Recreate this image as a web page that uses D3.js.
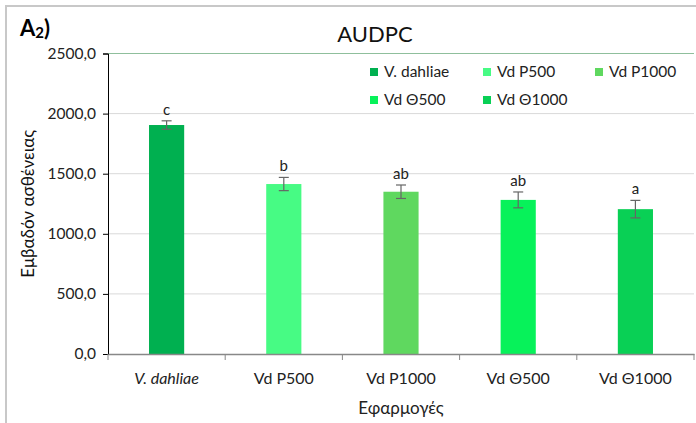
<!DOCTYPE html>
<html><head><meta charset="utf-8">
<script src="https://cdn.jsdelivr.net/npm/d3@7"></script>
<style>body{margin:0;background:#fff;} svg{display:block;font-family:Lato,"Open Sans",sans-serif;}</style>
</head><body>
<svg id="c" width="696" height="423"></svg>
<script>
const categories = ["V. dahliae","Vd P500","Vd P1000","Vd Θ500","Vd Θ1000"];
const values = [1905, 1414, 1350, 1282, 1205];
const errors = [35, 55, 56, 66, 73];
const letters = ["c","b","ab","ab","a"];
const colors = ["#00B050","#47FB84","#5FD85F","#07F25A","#09D055"];
const yTicks = [0,500,1000,1500,2000,2500];

const svg = d3.select("#c");
const W=696,H=423;
const m={l:108,r:694,t:53.5,b:354};

// chart frame
svg.append("rect").attr("x",6).attr("y",6).attr("width",W+10).attr("height",H+10)
  .attr("fill","#fff").attr("stroke","#c8c8c8").attr("stroke-width",2);

const x=d3.scaleBand().domain(categories).range([m.l,m.r]).paddingInner(0.7).paddingOuter(0.35);
const xb=d3.scaleBand().domain(categories).range([m.l,m.r]);
const y=d3.scaleLinear().domain([0,2500]).range([m.b,m.t]);
const fmt=d=>d3.format(".1f")(d).replace(".",",");

// gridlines
svg.append("g").selectAll("line").data(yTicks.filter(d=>d>0)).join("line")
  .attr("x1",m.l).attr("x2",m.r).attr("y1",d=>y(d)).attr("y2",d=>y(d))
  .attr("stroke",d=>d===2500?"#8fbf9c":"#d9d9d9").attr("stroke-width",1);

// y axis
const ya=svg.append("g").attr("transform",`translate(${m.l},0)`)
  .call(d3.axisLeft(y).tickValues(yTicks).tickFormat(fmt).tickSize(5).tickPadding(7));
ya.select(".domain").attr("stroke","#000");
ya.selectAll(".tick line").attr("stroke","#000");
ya.selectAll("text").attr("font-size",15.5).attr("fill","#222").attr("font-family","Lato");

// bars
svg.append("g").selectAll("rect").data(categories).join("rect")
  .attr("x",d=>x(d)).attr("width",x.bandwidth())
  .attr("y",(d,i)=>y(values[i])).attr("height",(d,i)=>m.b-y(values[i]))
  .attr("fill",(d,i)=>colors[i]);

// x axis
const xa=svg.append("g").attr("transform",`translate(0,${m.b})`)
  .call(d3.axisBottom(xb).tickSize(0).tickPadding(19));
xa.select(".domain").attr("stroke","#888").attr("stroke-width",1.5);
xa.selectAll("text").attr("font-size",16).attr("fill","#222").attr("font-family","Lato")
  .attr("font-style",(d,i)=>i===0?"italic":"normal");
const bounds=[...categories.map(c=>xb(c)),m.r];
svg.append("g").selectAll("line").data(bounds).join("line")
  .attr("x1",d=>d).attr("x2",d=>d).attr("y1",m.b).attr("y2",m.b+6).attr("stroke","#888");

// error bars
const eg=svg.append("g").attr("stroke","#666").attr("stroke-width",1.2);
categories.forEach((c,i)=>{
  const cx=x(c)+x.bandwidth()/2;
  eg.append("line").attr("x1",cx).attr("x2",cx).attr("y1",y(values[i]+errors[i])).attr("y2",y(values[i]-errors[i]));
  [values[i]+errors[i],values[i]-errors[i]].forEach(v=>eg.append("line").attr("x1",cx-5).attr("x2",cx+5).attr("y1",y(v)).attr("y2",y(v)));
  svg.append("text").attr("x",cx).attr("y",y(values[i]+errors[i])-6).attr("text-anchor","middle")
    .attr("font-size",15).attr("fill","#222").text(letters[i]);
});

// legend
const legX=[370,483,595], legY=[72,100];
categories.forEach((c,i)=>{
  const lx=legX[i%3], ly=legY[Math.floor(i/3)];
  svg.append("rect").attr("x",lx).attr("y",ly-4).attr("width",8).attr("height",8).attr("fill",colors[i]);
  svg.append("text").attr("x",lx+14).attr("y",ly+5).attr("font-size",15.5).attr("fill","#222").text(c);
});

// titles
svg.append("text").attr("x",375).attr("y",42).attr("text-anchor","middle").attr("font-size",22).attr("fill","#111").text("AUDPC");
const a=svg.append("text").attr("x",20).attr("y",36).attr("font-size",22).attr("font-weight","bold").attr("fill","#000");
a.append("tspan").text("A");
a.append("tspan").attr("font-size",15).attr("dy",2).text("2");
a.append("tspan").attr("dy",-2).text(")");
svg.append("text").attr("transform",`translate(34,${(m.t+m.b)/2}) rotate(-90)`).attr("text-anchor","middle")
  .attr("font-size",17).attr("fill","#111").text("Εμβαδόν ασθένειας");
svg.append("text").attr("x",(m.l+m.r)/2).attr("y",414).attr("text-anchor","middle")
  .attr("font-size",17).attr("fill","#222").text("Εφαρμογές");
</script>
</body></html>
